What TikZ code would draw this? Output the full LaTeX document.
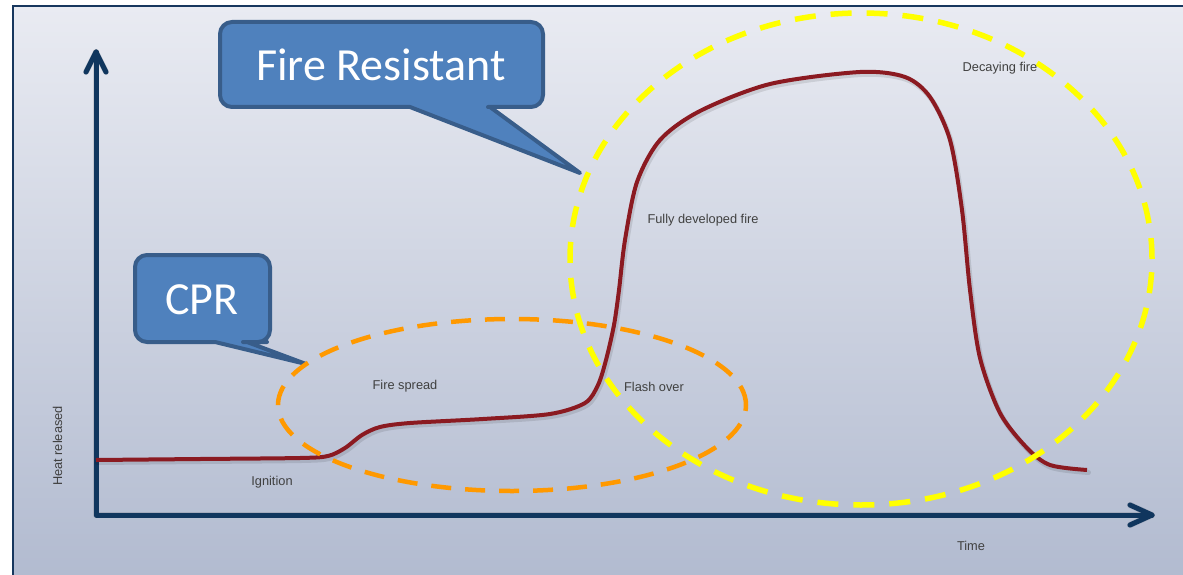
\documentclass[tikz,border=0pt]{standalone}
\usepackage{fontspec}
\setmainfont{Liberation Sans}
\newfontfamily\calibri{Carlito}
\usetikzlibrary{calc}
\definecolor{bgtop}{RGB}{233,235,242}
\definecolor{bgbot}{RGB}{178,187,208}
\definecolor{framec}{RGB}{23,55,94}
\definecolor{axisc}{RGB}{16,54,94}
\definecolor{curvec}{RGB}{139,26,33}
\definecolor{orangec}{RGB}{255,153,0}
\definecolor{yellowc}{RGB}{255,255,0}
\definecolor{callfill}{RGB}{79,129,189}
\definecolor{callline}{RGB}{56,93,138}
\definecolor{labelc}{RGB}{64,64,64}
\begin{document}
\begin{tikzpicture}[x=1pt,y=-1pt,
 axisline/.style={line width=5pt, draw=axisc, line cap=round, line join=round},
 shadowline/.style={line width=6pt, draw=black, opacity=0.10, line cap=round, line join=round},
 curveline/.style={line width=4pt, draw=curvec, line cap=butt, line join=round},
 orangering/.style={draw=orangec, line width=4.5pt, dash pattern=on 20pt off 14pt},
 yellowring/.style={draw=yellowc, line width=5.5pt, dash pattern=on 21pt off 15pt},
 callout/.style={fill=callfill, draw=callline, line width=4pt, line join=round},
 calltext/.style={text=white, font=\calibri\fontsize{46}{50}\selectfont, inner sep=0pt},
 lbl/.style={text=labelc, font=\fontsize{12.8}{14}\selectfont, inner sep=0pt, anchor=base}
]
\useasboundingbox (0,0) rectangle (1183,575);
\shade[top color=bgtop, bottom color=bgbot] (13,6) rectangle (1183,575);
\draw[framec, line width=2.5pt] (13,575) -- (13,6) -- (1183,6);

% axes
\coordinate (O) at (96,515);
\coordinate (ytip) at (96,52);
\coordinate (xtip) at (1152,515);
\begin{scope}[shift={(2,3)}]
\draw[shadowline] (ytip) -- (O) -- (xtip);
\draw[shadowline] ($(ytip)+(-10,20)$) -- (ytip) -- ($(ytip)+(10,20)$);
\draw[shadowline] ($(xtip)+(-22,-10)$) -- (xtip) -- ($(xtip)+(-22,10)$);
\end{scope}
\draw[axisline] (ytip) -- (O) -- (xtip);
\draw[axisline] ($(ytip)+(-10,20)$) -- (ytip) -- ($(ytip)+(10,20)$);
\draw[axisline] ($(xtip)+(-22,-10)$) -- (xtip) -- ($(xtip)+(-22,10)$);

% heat curve
\def\heatpts{(96,460) (200,459) (300,458) (328,456) (345,448) (362,435) (380,427) (410,423) (483,419) (550,414) (585,403) (598,385) (606,360) (614,325) (619,290) (625,240) (637,182) (660,140) (700,111) (770,84) (860,72) (905,77) (930,97) (950,140) (962,210) (970,290) (980,358) (1000,413) (1027,448) (1050,465) (1087,470)}
\draw[shadowline, line width=5pt, shift={(1.5,2.5)}] plot[smooth, tension=0.5] coordinates {\heatpts};
\draw[curveline] plot[smooth, tension=0.5] coordinates {\heatpts};

% callouts
\draw[callout] [rounded corners=12pt] (220,65) |- (543,22) |- (500,107) [sharp corners] -- (490,107) -- (580,173) -- (410,107) [rounded corners=12pt] -| (220,65) -- cycle;
\node[calltext] (fr) at (381,65) {Fire Resistant};
\draw[callout] [rounded corners=12pt] (135,300) |- (270,255) |- (255,342) [sharp corners] -- (247,342) -- (306,364) -- (215,342) [rounded corners=12pt] -| (135,300) -- cycle;
\node[calltext] (cpr) at (202,300) {CPR};

% rings
\draw[yellowring] (861,259) ellipse [x radius=291pt, y radius=246pt];
\draw[orangering] (512,405) ellipse [x radius=234pt, y radius=86pt];

% labels
\node[lbl] (ign) at (272,485) {Ignition};
\node[lbl] (spread) at (405,389) {Fire spread};
\node[lbl] (flash) at (654,391) {Flash over};
\node[lbl] (full) at (703,223) {Fully developed fire};
\node[lbl] (decay) at (1000,72) {Decaying fire};
\node[lbl] (time) at (971,550) {Time};
\node[lbl, rotate=90] (heat) at (62,446) {Heat released};
\end{tikzpicture}
\end{document}
